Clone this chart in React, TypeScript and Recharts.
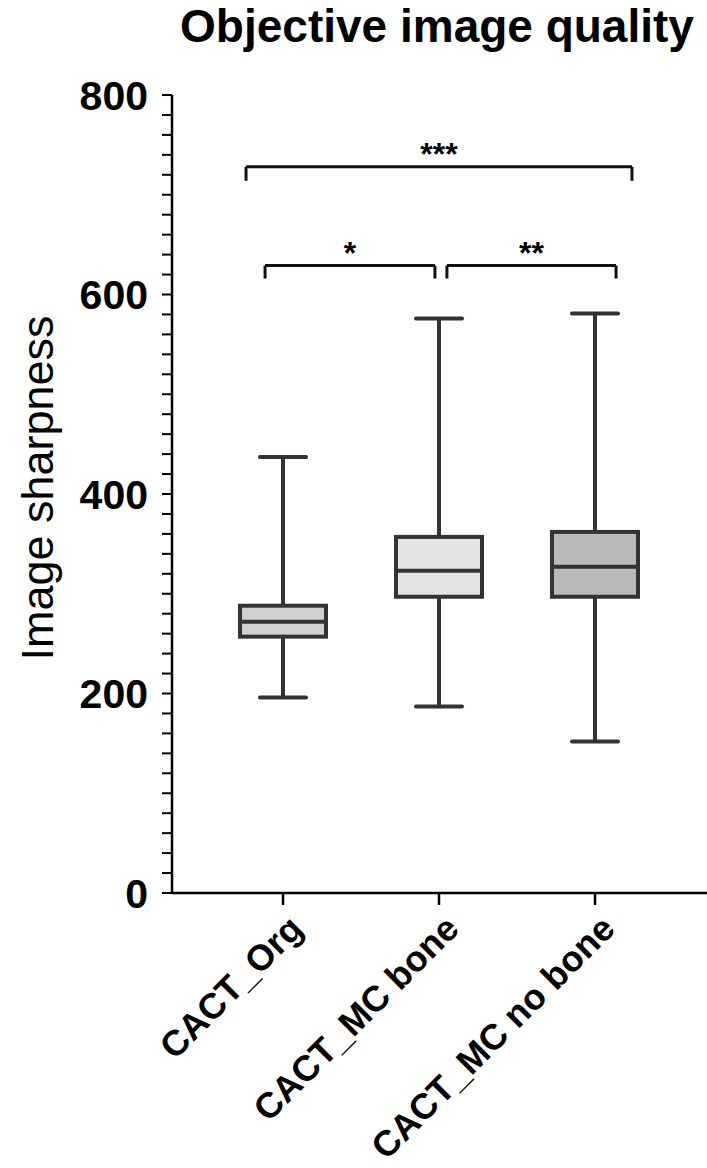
import React from 'react';
import {
  ComposedChart,
  Bar,
  XAxis,
  YAxis,
  ReferenceLine,
  ReferenceDot,
} from 'recharts';

const categories = ['CACT_Org', 'CACT_MC bone', 'CACT_MC no bone'];
const positions = [1, 2, 3];
const mins = [196, 187, 152];
const q1s = [257, 297, 297];
const medians = [272, 323, 327];
const q3s = [288, 357, 362];
const maxs = [437, 576, 581];
const fills = ['#d0d0d0', '#e4e4e4', '#b9b9b9'];

const yTicks = Array.from({ length: 41 }, (_, i) => i * 20);
const yLabelTicks = [0, 200, 400, 600, 800];

// significance brackets: from/to on the x axis (category units), y level, drop to, label
const bracketFrom = [0.763, 0.885, 2.051];
const bracketTo = [3.237, 1.974, 3.135];
const bracketY = [728, 629, 629];
const bracketDrop = [714, 616, 616];
const bracketLabels = ['***', '*', '**'];

const data = categories.map((name, i) => ({
  name,
  x: positions[i],
  min: mins[i],
  q1: q1s[i],
  median: medians[i],
  q3: q3s[i],
  max: maxs[i],
  fill: fills[i],
}));

const FONT = '"Liberation Sans", Arial, Helvetica, sans-serif';
const STROKE = '#333333';

const BoxShape = (props: any) => {
  const { x, y, width, height, payload } = props;
  const { min, q1, median, q3, max, fill } = payload;
  const k = height / (max - min);
  const py = (v: number) => y + (max - v) * k;
  const cx = x + width / 2;
  const capHalf = 23;
  const sw = 4;
  return (
    <g>
      <line x1={cx} x2={cx} y1={py(max)} y2={py(q3)} stroke={STROKE} strokeWidth={sw} />
      <line x1={cx} x2={cx} y1={py(q1)} y2={py(min)} stroke={STROKE} strokeWidth={sw} />
      <line x1={cx - capHalf} x2={cx + capHalf} y1={py(max)} y2={py(max)} stroke={STROKE} strokeWidth={sw} strokeLinecap="round" />
      <line x1={cx - capHalf} x2={cx + capHalf} y1={py(min)} y2={py(min)} stroke={STROKE} strokeWidth={sw} strokeLinecap="round" />
      <rect x={x} y={py(q3)} width={width} height={py(q1) - py(q3)} fill={fill} stroke={STROKE} strokeWidth={sw} />
      <line x1={x} x2={x + width} y1={py(median)} y2={py(median)} stroke={STROKE} strokeWidth={sw} />
    </g>
  );
};

const YTick = (props: any) => {
  const { x, y, payload } = props;
  if (!yLabelTicks.includes(payload.value)) return null;
  return (
    <text x={x} y={y} dy="0.36em" textAnchor="end" fontFamily={FONT} fontWeight="bold" fontSize={41} fill="#000">
      {payload.value}
    </text>
  );
};

const XTick = (props: any) => {
  const { x, y, payload } = props;
  const label = categories[positions.indexOf(payload.value)];
  return (
    <g transform={`translate(${x + 4},${y + 4})`}>
      <text transform="rotate(-45)" textAnchor="end" dy="0.7em" fontFamily={FONT} fontWeight="bold" fontSize={36} fill="#000">
        {label}
      </text>
    </g>
  );
};

const YLabel = (props: any) => {
  const { viewBox } = props;
  const bx = viewBox.x + 53;
  const cy = viewBox.y + viewBox.height / 2 - 6;
  return (
    <text
      x={bx}
      y={cy}
      transform={`rotate(-90, ${bx}, ${cy})`}
      textAnchor="middle"
      fontFamily={FONT}
      fontSize={45}
      fill="#000"
    >
      Image sharpness
    </text>
  );
};

const StarLabel = (props: any) => {
  const { viewBox, value } = props;
  const cx = viewBox.x + (viewBox.width || 0) / 2;
  const cy = viewBox.y + (viewBox.height || 0) / 2;
  return (
    <text x={cx} y={cy} textAnchor="middle" dy="0.7em" fontFamily={FONT} fontWeight="bold" fontSize={32} fill="#000">
      {value}
    </text>
  );
};

export default function App() {
  return (
    <div style={{ position: 'absolute', left: 0, top: 0, width: 707, height: 1168, background: '#fff', overflow: 'hidden' }}>
      <ComposedChart
        width={707}
        height={1168}
        data={data}
        margin={{ top: 95, right: 0, bottom: 0, left: 0 }}
      >
        <XAxis
          type="number"
          dataKey="x"
          domain={[0.2885, 3.718]}
          ticks={positions}
          allowDataOverflow
          interval={0}
          height={275}
          tickSize={12}
          tickMargin={4}
          axisLine={{ stroke: '#000', strokeWidth: 2.5 }}
          tickLine={{ stroke: '#000', strokeWidth: 2.5 }}
          tick={<XTick />}
        />
        <YAxis
          type="number"
          domain={[0, 800]}
          ticks={yTicks}
          interval={0}
          width={172}
          tickSize={10}
          tickMargin={14}
          axisLine={{ stroke: '#000', strokeWidth: 2.5 }}
          tickLine={{ stroke: '#000', strokeWidth: 2 }}
          tick={<YTick />}
          label={<YLabel />}
        />
        <Bar
          dataKey={(d: any) => [d.min, d.max]}
          barSize={86}
          shape={<BoxShape />}
          isAnimationActive={false}
        />
        {bracketLabels.map((lab, i) => (
          <ReferenceLine
            key={`h${i}`}
            segment={[{ x: bracketFrom[i], y: bracketY[i] }, { x: bracketTo[i], y: bracketY[i] }]}
            stroke="#111"
            strokeWidth={3}
            ifOverflow="visible"
          />
        ))}
        {bracketLabels.map((lab, i) => (
          <ReferenceLine
            key={`l${i}`}
            segment={[{ x: bracketFrom[i], y: bracketY[i] }, { x: bracketFrom[i], y: bracketDrop[i] }]}
            stroke="#111"
            strokeWidth={3}
            ifOverflow="visible"
          />
        ))}
        {bracketLabels.map((lab, i) => (
          <ReferenceLine
            key={`r${i}`}
            segment={[{ x: bracketTo[i], y: bracketY[i] }, { x: bracketTo[i], y: bracketDrop[i] }]}
            stroke="#111"
            strokeWidth={3}
            ifOverflow="visible"
          />
        ))}
        {bracketLabels.map((lab, i) => (
          <ReferenceDot
            key={`s${i}`}
            x={(bracketFrom[i] + bracketTo[i]) / 2}
            y={bracketY[i] + 24}
            r={0}
            fill="none"
            stroke="none"
            ifOverflow="visible"
            label={<StarLabel value={lab} />}
          />
        ))}
      </ComposedChart>
      <div
        style={{
          position: 'absolute',
          left: 0,
          top: 2,
          width: 707,
          paddingLeft: 167,
          paddingRight: 0,
          boxSizing: 'border-box',
          textAlign: 'center',
          fontFamily: FONT,
          fontWeight: 'bold',
          fontSize: 46,
          lineHeight: '48px',
          color: '#000',
          whiteSpace: 'nowrap',
        }}
      >
        Objective image quality
      </div>
    </div>
  );
}
